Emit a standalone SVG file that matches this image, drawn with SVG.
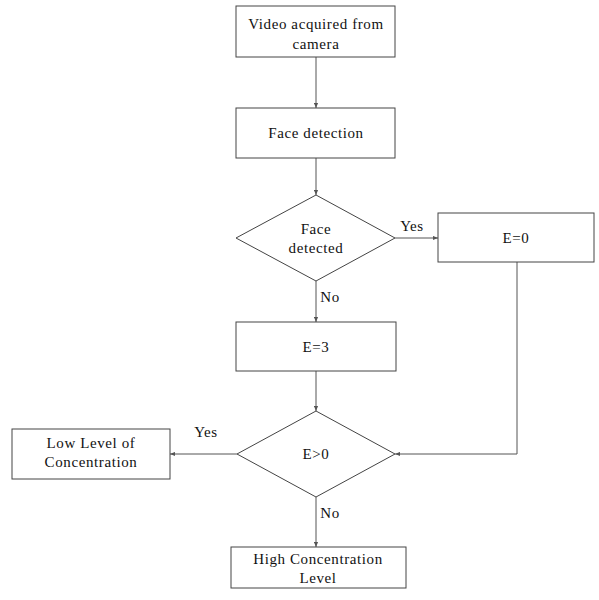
<svg xmlns="http://www.w3.org/2000/svg" width="599" height="600" viewBox="0 0 599 600">
<defs>
<style>
.n{fill:#fff;stroke:#444;stroke-width:1}
.c{fill:none;stroke:#555;stroke-width:1}
text{font-family:"Liberation Serif","Times New Roman",serif;font-size:15px;letter-spacing:0.6px;fill:#111;text-anchor:middle}
</style>
<marker id="a" viewBox="0 0 6 6" refX="6" refY="3" markerWidth="5" markerHeight="5" orient="auto" markerUnits="userSpaceOnUse">
<path d="M0,0.5 L6,3 L0,5.5 z" fill="#555"/>
</marker>
</defs>
<rect width="599" height="600" fill="#fff"/>
<g id="connectors">
<path class="c" d="M316,57 V108" marker-end="url(#a)"/>
<path class="c" d="M316,158 V195" marker-end="url(#a)"/>
<path class="c" d="M395,238 H438" marker-end="url(#a)"/>
<path class="c" d="M316,281 V322" marker-end="url(#a)"/>
<path class="c" d="M316,371 V411" marker-end="url(#a)"/>
<path class="c" d="M517,262 V454 H395" marker-end="url(#a)"/>
<path class="c" d="M237,454 H170" marker-end="url(#a)"/>
<path class="c" d="M316,497 V547" marker-end="url(#a)"/>
<text x="412" y="231">Yes</text>
<text x="330" y="302">No</text>
<text x="206" y="437">Yes</text>
<text x="330" y="518">No</text>
</g>
<g id="video"><rect class="n" x="236" y="6" width="159" height="51"/><text x="316" y="29">Video acquired from</text><text x="316" y="49">camera</text></g>
<g id="face"><rect class="n" x="236" y="108" width="159" height="50"/><text x="316" y="138">Face detection</text></g>
<g id="detected"><polygon class="n" points="316,195 395,238 316,281 236,238"/><text x="316" y="234">Face</text><text x="316" y="253">detected</text></g>
<g id="e0"><rect class="n" x="438" y="213" width="156" height="49"/><text x="516" y="243">E=0</text></g>
<g id="e3"><rect class="n" x="236" y="322" width="160" height="49"/><text x="316" y="352">E=3</text></g>
<g id="egt0"><polygon class="n" points="316,411 395,454 316,497 237,454"/><text x="316" y="459">E&gt;0</text></g>
<g id="low"><rect class="n" x="12" y="429" width="158" height="50"/><text x="91" y="448">Low Level of</text><text x="91" y="467">Concentration</text></g>
<g id="high"><rect class="n" x="231" y="547" width="175" height="41"/><text x="318" y="564">High Concentration</text><text x="318" y="583">Level</text></g>
</svg>
